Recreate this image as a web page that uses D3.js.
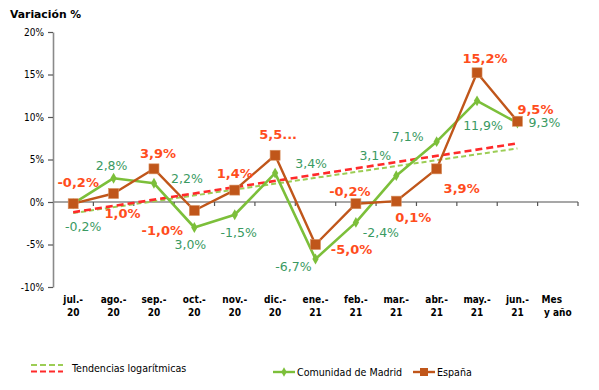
<!DOCTYPE html>
<html><head><meta charset="utf-8">
<script src="https://cdn.jsdelivr.net/npm/d3@7"></script>
<style>
body{margin:0;background:#fff;}
svg{display:block;}
</style></head>
<body>
<svg id="chart" width="599" height="390"></svg>
<script>
// ---- data ----
const months = ["jul.-|20","ago.-|20","sep.-|20","oct.-|20","nov.-|20","dic.-|20","ene.-|21","feb.-|21","mar.-|21","abr.-|21","may.-|21","jun.-|21"];
const axisTitleX = "Mes|y año";
const madrid = [-0.2, 2.8, 2.2, -3.0, -1.5, 3.4, -6.7, -2.4, 3.1, 7.1, 11.9, 9.3];
const espana = [-0.2, 1.0, 3.9, -1.0, 1.4, 5.5, -5.0, -0.2, 0.1, 3.9, 15.2, 9.5];
const madridLabels = ["-0,2%","2,8%","2,2%","3,0%","-1,5%","3,4%","-6,7%","-2,4%","3,1%","7,1%","11,9%","9,3%"];
const espanaLabels = ["-0,2%","1,0%","3,9%","-1,0%","1,4%","5,5...","-5,0%","-0,2%","0,1%","3,9%","15,2%","9,5%"];
const trendMadrid = [-1.3, 6.3];   // at first and last month
const trendEspana = [-1.2, 6.9];
const yTicks = [-10, -5, 0, 5, 10, 15, 20];

// ---- layout (label offsets in px from point) ----
const madridOff = [[10,23],[-2,-13],[33,-5],[-4,17],[4,18],[36,-10],[-22,8],[25,10],[-21,-20],[-29,-5],[6,25],[27,0]];
const espanaOff = [[5,-21],[9,20],[4,-16],[-32,20],[0,-17],[3,-21],[36,5],[-6,-12],[17,16],[25,19],[8,-14],[18,-12]];

const C = {
  madridLine: "#7cbf3a", madridText: "#3a9a62",
  espanaLine: "#c0561a", espanaText: "#ff4d1c",
  trendRed: "#ff2a2a", trendGreen: "#9ccd55", axis: "#8a8a8a"
};
const svg = d3.select("#chart");
const fontTxt = "'DejaVu Sans', Verdana, sans-serif";
const fontCond = "'DejaVu Sans Condensed', 'DejaVu Sans', sans-serif";

const domainX = months.concat([axisTitleX]);
const x = d3.scaleBand().domain(domainX).range([53, 578]).padding(0);
const cx = d => x(d) + x.bandwidth() / 2;
const y = d3.scaleLinear().domain([-10, 20]).range([287, 32]);

// title
svg.append("text").attr("x", 10).attr("y", 18).text("Variación %")
  .attr("font-family", fontTxt).attr("font-weight", "bold").attr("font-size", 10.8).attr("fill", "#000");

// y axis
const yAxis = d3.axisLeft(y).tickValues(yTicks).tickFormat(d => d + "%").tickSize(5).tickSizeOuter(0);
const gy = svg.append("g").attr("transform", "translate(53,0)").call(yAxis);
gy.select(".domain").attr("stroke", C.axis).attr("stroke-width", 1.6);
gy.selectAll(".tick line").attr("stroke", "#555").attr("stroke-width", 1.2);
gy.selectAll(".tick text").attr("font-family", fontCond).attr("font-size", 10).attr("fill", "#000").attr("x", -9);

// x axis line at 0 with ticks at band boundaries
svg.append("line").attr("x1", 53).attr("x2", 578).attr("y1", y(0)).attr("y2", y(0))
  .attr("stroke", C.axis).attr("stroke-width", 1.6);
svg.append("g").selectAll("line").data(domainX).join("line")
  .attr("x1", d => x(d) + x.bandwidth()).attr("x2", d => x(d) + x.bandwidth())
  .attr("y1", y(0)).attr("y2", y(0) + 4).attr("stroke", "#555").attr("stroke-width", 1.2);

// x labels
const xAxis = d3.axisBottom(x).tickSize(0).tickFormat("");
const gx = svg.append("g").attr("transform", "translate(0,294)").call(xAxis);
gx.select(".domain").remove();
gx.selectAll(".tick").each(function(d) {
  const parts = d.split("|");
  const t = d3.select(this).append("text").attr("fill", "#000")
    .attr("font-family", fontCond).attr("font-weight", "bold").attr("font-size", 10)
    .attr("text-anchor", "middle").attr("dx", d === axisTitleX ? -6 : 0);
  parts.forEach((p, i) => t.append("tspan").attr("x", 0).attr("y", 13 * i + 9).text(p));
});

// trend lines
function trend(vals, color, dash, w) {
  svg.append("line")
    .attr("x1", cx(months[0])).attr("y1", y(vals[0]))
    .attr("x2", cx(months[months.length - 1])).attr("y2", y(vals[1]))
    .attr("stroke", color).attr("stroke-width", w).attr("stroke-dasharray", dash);
}
trend(trendMadrid, C.trendGreen, "5,3", 2);
trend(trendEspana, C.trendRed, "7,4", 2.6);

// series lines
const line = d3.line().x((d, i) => cx(months[i])).y(d => y(d));
svg.append("path").datum(madrid).attr("d", line).attr("fill", "none")
  .attr("stroke", C.madridLine).attr("stroke-width", 2.6).attr("stroke-linejoin", "round");
svg.append("path").datum(espana).attr("d", line).attr("fill", "none")
  .attr("stroke", C.espanaLine).attr("stroke-width", 2.4).attr("stroke-linejoin", "round");

// markers
svg.append("g").selectAll("path").data(madrid).join("path")
  .attr("d", d3.symbol(d3.symbolDiamond, 34))
  .attr("transform", (d, i) => `translate(${cx(months[i])},${y(d)})`)
  .attr("fill", C.madridLine);
svg.append("g").selectAll("rect").data(espana).join("rect")
  .attr("x", (d, i) => cx(months[i]) - 5).attr("y", d => y(d) - 5)
  .attr("width", 10).attr("height", 10)
  .attr("fill", C.espanaLine).attr("stroke", "#d8905f").attr("stroke-width", 0.6);

// data labels
svg.append("g").selectAll("text").data(madrid).join("text")
  .attr("x", (d, i) => cx(months[i]) + madridOff[i][0])
  .attr("y", (d, i) => y(d) + madridOff[i][1])
  .attr("dy", "0.36em").attr("text-anchor", "middle")
  .attr("font-family", fontTxt).attr("font-size", 12.5).attr("fill", C.madridText)
  .text((d, i) => madridLabels[i]);
svg.append("g").selectAll("text").data(espana).join("text")
  .attr("x", (d, i) => cx(months[i]) + espanaOff[i][0])
  .attr("y", (d, i) => y(d) + espanaOff[i][1])
  .attr("dy", "0.36em").attr("text-anchor", "middle")
  .attr("font-family", fontTxt).attr("font-weight", "bold").attr("font-size", 13).attr("fill", C.espanaText)
  .text((d, i) => espanaLabels[i]);

// legend
const lg = svg.append("g");
lg.append("line").attr("x1", 31).attr("x2", 63).attr("y1", 365).attr("y2", 365)
  .attr("stroke", C.trendGreen).attr("stroke-width", 2).attr("stroke-dasharray", "6,3");
lg.append("line").attr("x1", 31).attr("x2", 63).attr("y1", 371.5).attr("y2", 371.5)
  .attr("stroke", C.trendRed).attr("stroke-width", 2).attr("stroke-dasharray", "6,3");
lg.append("text").attr("x", 72).attr("y", 368).attr("dy", "0.35em").text("Tendencias logarítmicas")
  .attr("font-family", fontCond).attr("font-size", 10.6).attr("fill", "#000");

lg.append("line").attr("x1", 273).attr("x2", 295).attr("y1", 372).attr("y2", 372)
  .attr("stroke", C.madridLine).attr("stroke-width", 2.4);
lg.append("path").attr("d", d3.symbol(d3.symbolDiamond, 26)).attr("transform", "translate(284,372)").attr("fill", C.madridLine);
lg.append("text").attr("x", 297).attr("y", 372).attr("dy", "0.35em").text("Comunidad de Madrid")
  .attr("font-family", fontCond).attr("font-size", 10.6).attr("fill", "#000");

lg.append("line").attr("x1", 413).attr("x2", 435).attr("y1", 372).attr("y2", 372)
  .attr("stroke", C.espanaLine).attr("stroke-width", 2.4);
lg.append("rect").attr("x", 420).attr("y", 368).attr("width", 8).attr("height", 8).attr("fill", C.espanaLine);
lg.append("text").attr("x", 437).attr("y", 372).attr("dy", "0.35em").text("España")
  .attr("font-family", fontCond).attr("font-size", 10.6).attr("fill", "#000");
</script>
</body></html>
